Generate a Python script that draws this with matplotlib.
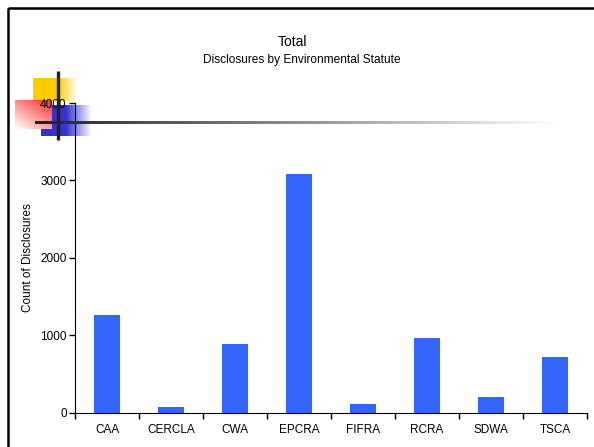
import numpy as np
import matplotlib
matplotlib.use("Agg")
import matplotlib.pyplot as plt
from matplotlib.patches import Rectangle

plt.rcParams["font.family"] = ["Liberation Sans", "DejaVu Sans"]

statutes = ["CAA", "CERCLA", "CWA", "EPCRA", "FIFRA", "RCRA", "SDWA", "TSCA"]
counts = [1262, 78, 888, 3085, 112, 966, 203, 720]
yticks = [0, 1000, 2000, 3000, 4000]

W, H = 594, 447
fig = plt.figure(figsize=(W / 100, H / 100), dpi=100)

# decoration layer, pixel coordinates
deco = fig.add_axes([0, 0, 1, 1], zorder=0)
deco.set_xlim(0, W); deco.set_ylim(H, 0); deco.axis("off")

def grad(x0, x1, y0, y1, rgb, alpha):
    img = np.zeros(alpha.shape + (4,))
    img[..., :3] = rgb
    img[..., 3] = alpha
    deco.imshow(img, extent=(x0, x1, y1, y0), aspect="auto", interpolation="bilinear")

# yellow square
xs = np.linspace(33, 78, 60)
a = np.clip((78 - xs) / 20, 0, 1)
grad(33, 78, 78, 101, (1, 0.8, 0), np.tile(a, (20, 1)))
# blue square
xs = np.linspace(41, 92, 60)
a = np.clip((92 - xs) / 26, 0, 1)
grad(41, 92, 105, 136, (0.2, 0.2, 0.8), np.tile(a, (20, 1)))
# red square (red -> white)
xx, yy = np.meshgrid(np.linspace(0, 1, 40), np.linspace(0, 1, 30))
t = np.clip(0.5 * xx + 0.6 * (1 - yy), 0, 1)
img = np.ones((30, 40, 4))
img[..., 1] = 1 - 0.75 * t
img[..., 2] = 1 - 0.75 * t
deco.imshow(img, extent=(15, 52, 129, 100), aspect="auto", interpolation="bilinear")
deco.set_xlim(0, W); deco.set_ylim(H, 0)

# main chart
ax = fig.add_axes([75 / W, 1 - 412.7 / H, 512 / W, 309.7 / H], zorder=1)
ax.patch.set_alpha(0)
x = np.arange(len(statutes))
ax.bar(x, counts, width=0.4, color="#3366FF")
ax.set_xlim(-0.5, len(statutes) - 0.5)
ax.set_ylim(0, 4000)
ax.set_yticks(yticks)
ax.set_xticks(x)
ax.set_xticklabels(statutes, fontsize=8.5)
ax.set_xticks(np.arange(len(statutes) + 1) - 0.5, minor=True)
ax.tick_params(axis="x", which="major", length=0, pad=8)
ax.tick_params(axis="x", which="minor", length=4, width=1)
ax.tick_params(axis="y", length=4, width=1, labelsize=8.5, pad=2)
for s in ["top", "right"]:
    ax.spines[s].set_visible(False)

fig.text(28 / W, 1 - 258 / H, "Count of Disclosures", rotation=90,
         ha="center", va="center", fontsize=8.5)
fig.text(293 / W, 1 - 42 / H, "Total", ha="center", va="center", fontsize=10)
fig.text(302 / W, 1 - 60 / H, "Disclosures by Environmental Statute",
         ha="center", va="center", fontsize=8.6)

# overlay lines
top = fig.add_axes([0, 0, 1, 1], zorder=2)
top.set_xlim(0, W); top.set_ylim(H, 0); top.axis("off")
top.patch.set_alpha(0)
xs = np.linspace(0, 1, 200)
line = np.ones((1, 200, 4))
g = 0.13 + 0.87 * xs
line[0, :, 0] = g; line[0, :, 1] = g; line[0, :, 2] = g
top.imshow(line, extent=(35, 560, 124.5, 122), aspect="auto", interpolation="bilinear")
top.plot([57.8, 57.8], [71, 140], color="#202020", lw=2.4, solid_capstyle="butt")
top.add_patch(Rectangle((7.5, 7.5), W, H, fill=False, edgecolor="black", lw=1.8))
top.set_xlim(0, W); top.set_ylim(H, 0)

fig.savefig("out.png", dpi=100)
